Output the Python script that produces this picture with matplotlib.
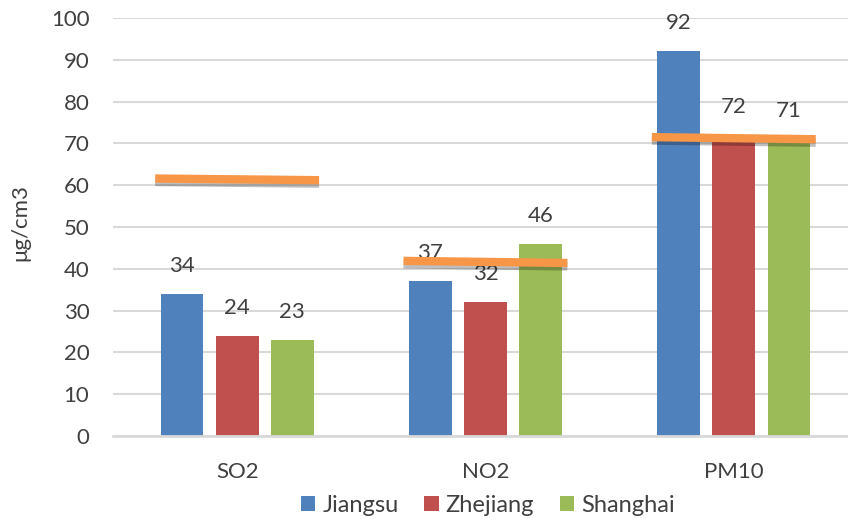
import matplotlib.pyplot as plt
import matplotlib.patheffects as pe
import numpy as np

categories = ["SO2", "NO2", "PM10"]
regions = ["Jiangsu", "Zhejiang", "Shanghai"]
jiangsu = [34, 37, 92]
zhejiang = [24, 32, 72]
shanghai = [23, 46, 71]
# standard lines (start, end) per category
standard_start = [61.6, 41.9, 71.5]
standard_end = [61.2, 41.4, 71.0]

colors = ["#4F81BD", "#C0504D", "#9BBB59"]
text_color = "#404040"

plt.rcParams["font.family"] = ["Lato", "DejaVu Sans"]

fig = plt.figure(figsize=(8.48, 5.19), dpi=100)
ax = fig.add_axes([113 / 848, 1 - 436 / 519, 1 - 113 / 848, (436 - 18) / 519])

x = np.arange(len(categories))
width = 0.172
step = 0.222
series = [jiangsu, zhejiang, shanghai]
for i, (vals, name, c) in enumerate(zip(series, regions, colors)):
    pos = x + (i - 1) * step
    ax.bar(pos, vals, width, color=c, label=name, zorder=2)
    for px, v in zip(pos, vals):
        ax.annotate(str(v), (px, v), xytext=(0, 28), textcoords="offset pixels",
                    ha="center", va="center", fontsize=16, color=text_color, zorder=3)

# standard lines with drop shadow
for xi, y0, y1 in zip(x, standard_start, standard_end):
    ax.plot([xi - 0.33, xi + 0.33], [y0, y1], color="#F79646", lw=6,
            solid_capstyle="butt", zorder=4,
            path_effects=[pe.SimpleLineShadow(offset=(0, -2.5), shadow_color="black", alpha=0.25),
                          pe.Normal()])

ax.set_xlim(-0.5, 2.46)
ax.set_ylim(0, 100)
ax.set_yticks(range(0, 101, 10))
ax.set_xticks(x)
ax.set_xticklabels(categories)
ax.yaxis.grid(True, color="#D9D9D9", lw=1.5, zorder=0)
ax.set_axisbelow(True)
for s in ["top", "right", "left"]:
    ax.spines[s].set_visible(False)
ax.spines["bottom"].set_color("#D9D9D9")
ax.spines["bottom"].set_linewidth(2)
ax.tick_params(axis="both", length=0, labelsize=16, labelcolor=text_color)
ax.tick_params(axis="y", pad=17)
ax.tick_params(axis="x", pad=19)
ax.set_ylabel("μg/cm3", fontsize=16, color=text_color)
ax.yaxis.set_label_coords(-0.112, 0.51)

fig.legend(loc="lower center", bbox_to_anchor=(488 / 848, -0.035), ncol=3, frameon=False,
           fontsize=17, labelcolor=text_color, handlelength=0.6, handleheight=0.6,
           handletextpad=0.3, columnspacing=1.1)

fig.savefig("out.png", dpi=100)
